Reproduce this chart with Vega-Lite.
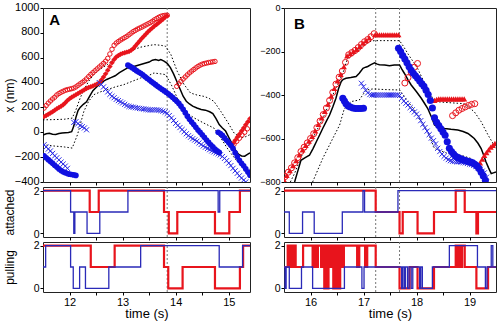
{
"$schema":"https://vega.github.io/schema/vega-lite/v6.json",
"padding":{"left":2,"top":0,"right":2,"bottom":2},
"background":"white",
"spacing":4,
"config":{
 "view":{"stroke":"#222","strokeWidth":1},
 "axis":{"domain":false,"grid":false,"labelOverlap":false,"tickColor":"#000","tickSize":3,"labelPadding":1,"titlePadding":1,"labelFont":"Liberation Sans","titleFont":"Liberation Sans","labelColor":"#000","titleColor":"#000","titleFontWeight":"normal","labelFontSize":11,"titleFontSize":12}
},
"datasets":{
 "vl":[{"p":"A","t":13.84,"v":-400,"v2":1000},{"p":"B","t":17.23,"v":-800,"v2":0},{"p":"B","t":17.68,"v":-800,"v2":0}],
 "lab":[{"p":"A","t":11.72,"v":905,"k":"A"},{"p":"B","t":15.79,"v":-75,"k":"B"}],
 "aPts":[
  {"s":"ro","t":11.52,"v":195},{"s":"ro","t":11.56,"v":215},{"s":"ro","t":11.6,"v":235},{"s":"ro","t":11.64,"v":252},{"s":"ro","t":11.68,"v":268},{"s":"ro","t":11.72,"v":282},{"s":"ro","t":11.76,"v":300},{"s":"ro","t":11.8,"v":312},{"s":"ro","t":11.84,"v":322},{"s":"ro","t":11.88,"v":330},{"s":"ro","t":11.92,"v":338},{"s":"ro","t":11.96,"v":343},{"s":"ro","t":12.0,"v":347},{"s":"ro","t":12.04,"v":351},{"s":"ro","t":12.08,"v":356},{"s":"ro","t":12.12,"v":365},{"s":"ro","t":12.16,"v":378},{"s":"ro","t":12.2,"v":390},{"s":"ro","t":12.24,"v":402},{"s":"ro","t":12.28,"v":414},{"s":"ro","t":12.32,"v":430},{"s":"ro","t":12.36,"v":448},{"s":"ro","t":12.4,"v":465},{"s":"ro","t":12.44,"v":480},{"s":"ro","t":12.48,"v":495},{"s":"ro","t":12.52,"v":510},{"s":"ro","t":12.56,"v":525},{"s":"ro","t":12.6,"v":540},{"s":"ro","t":12.64,"v":555},{"s":"ro","t":12.68,"v":572},{"s":"ro","t":12.72,"v":595},{"s":"ro","t":12.76,"v":630},{"s":"ro","t":12.8,"v":668},{"s":"ro","t":12.84,"v":700},{"s":"ro","t":12.88,"v":718},{"s":"ro","t":12.92,"v":730},{"s":"ro","t":12.96,"v":742},{"s":"ro","t":13.0,"v":752},{"s":"ro","t":13.04,"v":762},{"s":"ro","t":13.08,"v":772},{"s":"ro","t":13.12,"v":785},{"s":"ro","t":13.16,"v":798},{"s":"ro","t":13.2,"v":810},{"s":"ro","t":13.24,"v":820},{"s":"ro","t":13.28,"v":830},{"s":"ro","t":13.32,"v":838},{"s":"ro","t":13.36,"v":846},{"s":"ro","t":13.4,"v":855},{"s":"ro","t":13.44,"v":864},{"s":"ro","t":13.48,"v":873},{"s":"ro","t":13.52,"v":882},{"s":"ro","t":13.56,"v":893},{"s":"ro","t":13.6,"v":905},{"s":"ro","t":13.64,"v":915},{"s":"ro","t":13.68,"v":925},{"s":"ro","t":13.72,"v":933},{"s":"ro","t":13.76,"v":938},{"s":"ro","t":13.8,"v":941},{"s":"ro","t":13.84,"v":942},
  {"s":"ro","t":14.02,"v":370},{"s":"ro","t":14.06,"v":390},{"s":"ro","t":14.1,"v":410},{"s":"ro","t":14.14,"v":428},{"s":"ro","t":14.18,"v":445},{"s":"ro","t":14.22,"v":462},{"s":"ro","t":14.26,"v":478},{"s":"ro","t":14.3,"v":492},{"s":"ro","t":14.34,"v":505},{"s":"ro","t":14.38,"v":518},{"s":"ro","t":14.42,"v":530},{"s":"ro","t":14.46,"v":540},{"s":"ro","t":14.5,"v":548},{"s":"ro","t":14.54,"v":553},{"s":"ro","t":14.58,"v":557},{"s":"ro","t":14.62,"v":561},{"s":"ro","t":14.66,"v":564},{"s":"ro","t":14.7,"v":567},{"s":"ro","t":14.74,"v":570},
  {"s":"ro","t":15.1,"v":-95},{"s":"ro","t":15.15,"v":-72},{"s":"ro","t":15.2,"v":-48},{"s":"ro","t":15.25,"v":-22},{"s":"ro","t":15.3,"v":0},{"s":"ro","t":15.35,"v":28},
  {"s":"rf","t":11.52,"v":126},{"s":"rf","t":11.56,"v":135},{"s":"rf","t":11.6,"v":145},{"s":"rf","t":11.64,"v":155},{"s":"rf","t":11.68,"v":165},{"s":"rf","t":11.72,"v":178},{"s":"rf","t":11.76,"v":190},{"s":"rf","t":11.8,"v":200},{"s":"rf","t":11.84,"v":210},{"s":"rf","t":11.88,"v":222},{"s":"rf","t":11.92,"v":238},{"s":"rf","t":11.96,"v":255},{"s":"rf","t":12.0,"v":270},{"s":"rf","t":12.04,"v":282},{"s":"rf","t":12.08,"v":292},{"s":"rf","t":12.12,"v":302},{"s":"rf","t":12.16,"v":312},{"s":"rf","t":12.2,"v":322},{"s":"rf","t":12.24,"v":332},{"s":"rf","t":12.28,"v":342},{"s":"rf","t":12.32,"v":352},{"s":"rf","t":12.36,"v":360},{"s":"rf","t":12.4,"v":366},{"s":"rf","t":12.44,"v":372},{"s":"rf","t":12.48,"v":380},{"s":"rf","t":12.52,"v":388},{"s":"rf","t":12.56,"v":398},{"s":"rf","t":12.6,"v":420},{"s":"rf","t":12.64,"v":445},{"s":"rf","t":12.68,"v":470},{"s":"rf","t":12.72,"v":500},{"s":"rf","t":12.76,"v":530},{"s":"rf","t":12.8,"v":560},{"s":"rf","t":12.84,"v":585},{"s":"rf","t":12.88,"v":605},{"s":"rf","t":12.92,"v":618},{"s":"rf","t":12.96,"v":628},{"s":"rf","t":13.0,"v":635},{"s":"rf","t":13.04,"v":640},{"s":"rf","t":13.08,"v":645},{"s":"rf","t":13.12,"v":650},{"s":"rf","t":13.16,"v":660},{"s":"rf","t":13.2,"v":675},{"s":"rf","t":13.24,"v":695},{"s":"rf","t":13.28,"v":715},{"s":"rf","t":13.32,"v":735},{"s":"rf","t":13.36,"v":755},{"s":"rf","t":13.4,"v":772},{"s":"rf","t":13.44,"v":790},{"s":"rf","t":13.48,"v":808},{"s":"rf","t":13.52,"v":825},{"s":"rf","t":13.56,"v":840},{"s":"rf","t":13.6,"v":855},{"s":"rf","t":13.64,"v":868},{"s":"rf","t":13.68,"v":882},{"s":"rf","t":13.72,"v":895},{"s":"rf","t":13.76,"v":910},{"s":"rf","t":13.8,"v":925},{"s":"rf","t":13.84,"v":935},
  {"s":"rf","t":15.04,"v":-110},{"s":"rf","t":15.08,"v":-90},{"s":"rf","t":15.12,"v":-65},{"s":"rf","t":15.16,"v":-40},{"s":"rf","t":15.2,"v":-15},{"s":"rf","t":15.24,"v":10},{"s":"rf","t":15.28,"v":35},{"s":"rf","t":15.32,"v":60},{"s":"rf","t":15.36,"v":85},{"s":"rf","t":15.4,"v":110},
  {"s":"bf","t":11.52,"v":-190},{"s":"bf","t":11.56,"v":-205},{"s":"bf","t":11.6,"v":-220},{"s":"bf","t":11.64,"v":-235},{"s":"bf","t":11.68,"v":-250},{"s":"bf","t":11.72,"v":-265},{"s":"bf","t":11.76,"v":-280},{"s":"bf","t":11.8,"v":-295},{"s":"bf","t":11.84,"v":-308},{"s":"bf","t":11.88,"v":-318},{"s":"bf","t":11.92,"v":-325},{"s":"bf","t":11.96,"v":-332},{"s":"bf","t":12.0,"v":-337},{"s":"bf","t":12.04,"v":-340},{"s":"bf","t":12.08,"v":-343},{"s":"bf","t":12.12,"v":-347},
  {"s":"bf","t":13.1,"v":540},{"s":"bf","t":13.14,"v":530},{"s":"bf","t":13.18,"v":520},{"s":"bf","t":13.22,"v":508},{"s":"bf","t":13.26,"v":496},{"s":"bf","t":13.3,"v":485},{"s":"bf","t":13.34,"v":475},{"s":"bf","t":13.38,"v":462},{"s":"bf","t":13.42,"v":448},{"s":"bf","t":13.46,"v":435},{"s":"bf","t":13.5,"v":422},{"s":"bf","t":13.54,"v":408},{"s":"bf","t":13.58,"v":396},{"s":"bf","t":13.62,"v":383},{"s":"bf","t":13.66,"v":370},{"s":"bf","t":13.7,"v":358},{"s":"bf","t":13.74,"v":346},{"s":"bf","t":13.78,"v":335},{"s":"bf","t":13.82,"v":322},{"s":"bf","t":13.86,"v":310},{"s":"bf","t":13.9,"v":296},{"s":"bf","t":13.94,"v":282},{"s":"bf","t":13.98,"v":266},{"s":"bf","t":14.02,"v":250},{"s":"bf","t":14.06,"v":232},{"s":"bf","t":14.1,"v":210},{"s":"bf","t":14.14,"v":185},{"s":"bf","t":14.18,"v":158},{"s":"bf","t":14.22,"v":130},{"s":"bf","t":14.26,"v":105},{"s":"bf","t":14.3,"v":82},{"s":"bf","t":14.34,"v":62},{"s":"bf","t":14.38,"v":40},{"s":"bf","t":14.42,"v":18},{"s":"bf","t":14.46,"v":0},{"s":"bf","t":14.5,"v":-20},{"s":"bf","t":14.54,"v":-40},{"s":"bf","t":14.58,"v":-62},{"s":"bf","t":14.62,"v":-80},{"s":"bf","t":14.66,"v":-100},{"s":"bf","t":14.7,"v":-118},{"s":"bf","t":14.74,"v":-135},{"s":"bf","t":14.78,"v":-150},{"s":"bf","t":14.82,"v":-162},
  {"s":"bf","t":14.8,"v":0},{"s":"bf","t":14.84,"v":-10},{"s":"bf","t":14.88,"v":-25},{"s":"bf","t":14.92,"v":-45},{"s":"bf","t":14.96,"v":-65},{"s":"bf","t":15.0,"v":-85},{"s":"bf","t":15.04,"v":-105},{"s":"bf","t":15.08,"v":-130},{"s":"bf","t":15.12,"v":-165},{"s":"bf","t":15.16,"v":-195},{"s":"bf","t":15.2,"v":-225},{"s":"bf","t":15.24,"v":-250},{"s":"bf","t":15.28,"v":-270},{"s":"bf","t":15.32,"v":-295},{"s":"bf","t":15.36,"v":-320},{"s":"bf","t":15.4,"v":-345},
  {"s":"bx","t":11.52,"v":-100},{"s":"bx","t":11.56,"v":-118},{"s":"bx","t":11.6,"v":-135},{"s":"bx","t":11.64,"v":-150},{"s":"bx","t":11.68,"v":-170},{"s":"bx","t":11.72,"v":-190},{"s":"bx","t":11.76,"v":-205},{"s":"bx","t":11.8,"v":-222},{"s":"bx","t":11.84,"v":-240},{"s":"bx","t":11.88,"v":-255},{"s":"bx","t":11.92,"v":-272},{"s":"bx","t":11.96,"v":-290},
  {"s":"bx","t":12.08,"v":80},{"s":"bx","t":12.12,"v":85},{"s":"bx","t":12.16,"v":70},{"s":"bx","t":12.2,"v":55},{"s":"bx","t":12.24,"v":45},{"s":"bx","t":12.28,"v":35},{"s":"bx","t":12.32,"v":20},
  {"s":"bx","t":12.56,"v":400},{"s":"bx","t":12.6,"v":385},{"s":"bx","t":12.64,"v":365},{"s":"bx","t":12.68,"v":345},{"s":"bx","t":12.72,"v":325},{"s":"bx","t":12.76,"v":305},{"s":"bx","t":12.8,"v":290},{"s":"bx","t":12.84,"v":278},{"s":"bx","t":12.88,"v":265},{"s":"bx","t":12.92,"v":255},{"s":"bx","t":12.96,"v":245},{"s":"bx","t":13.0,"v":236},{"s":"bx","t":13.04,"v":225},{"s":"bx","t":13.08,"v":215},{"s":"bx","t":13.12,"v":208},{"s":"bx","t":13.16,"v":205},{"s":"bx","t":13.2,"v":202},{"s":"bx","t":13.24,"v":198},{"s":"bx","t":13.28,"v":195},{"s":"bx","t":13.32,"v":192},{"s":"bx","t":13.36,"v":190},{"s":"bx","t":13.4,"v":187},{"s":"bx","t":13.44,"v":184},{"s":"bx","t":13.48,"v":182},{"s":"bx","t":13.52,"v":180},{"s":"bx","t":13.56,"v":180},{"s":"bx","t":13.6,"v":181},{"s":"bx","t":13.64,"v":180},{"s":"bx","t":13.68,"v":178},{"s":"bx","t":13.72,"v":175},{"s":"bx","t":13.76,"v":170},{"s":"bx","t":13.8,"v":162},{"s":"bx","t":13.84,"v":152},{"s":"bx","t":13.88,"v":135},{"s":"bx","t":13.92,"v":115},{"s":"bx","t":13.96,"v":95},{"s":"bx","t":14.0,"v":72},{"s":"bx","t":14.04,"v":55},{"s":"bx","t":14.08,"v":38},{"s":"bx","t":14.12,"v":22},{"s":"bx","t":14.16,"v":5},{"s":"bx","t":14.2,"v":-12},{"s":"bx","t":14.24,"v":-28},{"s":"bx","t":14.28,"v":-40},{"s":"bx","t":14.32,"v":-52},{"s":"bx","t":14.36,"v":-62},{"s":"bx","t":14.4,"v":-72},{"s":"bx","t":14.44,"v":-85},{"s":"bx","t":14.48,"v":-98},{"s":"bx","t":14.52,"v":-110},{"s":"bx","t":14.56,"v":-120},{"s":"bx","t":14.6,"v":-130},{"s":"bx","t":14.64,"v":-140},{"s":"bx","t":14.68,"v":-150},{"s":"bx","t":14.72,"v":-158},{"s":"bx","t":14.76,"v":-165},{"s":"bx","t":14.8,"v":-172},{"s":"bx","t":14.84,"v":-182},{"s":"bx","t":14.88,"v":-195},{"s":"bx","t":14.92,"v":-210},{"s":"bx","t":14.96,"v":-228},{"s":"bx","t":15.0,"v":-248},{"s":"bx","t":15.04,"v":-268},{"s":"bx","t":15.08,"v":-290},{"s":"bx","t":15.12,"v":-310},{"s":"bx","t":15.16,"v":-330},{"s":"bx","t":15.2,"v":-350},{"s":"bx","t":15.24,"v":-368},{"s":"bx","t":15.28,"v":-385},{"s":"bx","t":15.32,"v":-400}
 ],
 "aLn":[
  {"s":"m","t":11.5,"v":-22},{"s":"m","t":11.56,"v":-12},{"s":"m","t":11.62,"v":-8},{"s":"m","t":11.68,"v":-15},{"s":"m","t":11.74,"v":-18},{"s":"m","t":11.8,"v":-10},{"s":"m","t":11.86,"v":-5},{"s":"m","t":11.92,"v":-3},{"s":"m","t":11.98,"v":-2},{"s":"m","t":12.04,"v":5},{"s":"m","t":12.08,"v":50},{"s":"m","t":12.12,"v":120},{"s":"m","t":12.16,"v":175},{"s":"m","t":12.2,"v":200},{"s":"m","t":12.26,"v":225},{"s":"m","t":12.32,"v":245},{"s":"m","t":12.38,"v":290},{"s":"m","t":12.44,"v":335},{"s":"m","t":12.5,"v":360},{"s":"m","t":12.56,"v":385},{"s":"m","t":12.62,"v":405},{"s":"m","t":12.7,"v":425},{"s":"m","t":12.78,"v":440},{"s":"m","t":12.86,"v":455},{"s":"m","t":12.94,"v":480},{"s":"m","t":13.02,"v":500},{"s":"m","t":13.1,"v":520},{"s":"m","t":13.18,"v":525},{"s":"m","t":13.26,"v":535},{"s":"m","t":13.34,"v":545},{"s":"m","t":13.42,"v":555},{"s":"m","t":13.5,"v":565},{"s":"m","t":13.56,"v":580},{"s":"m","t":13.62,"v":585},{"s":"m","t":13.68,"v":578},{"s":"m","t":13.72,"v":585},{"s":"m","t":13.78,"v":572},{"s":"m","t":13.84,"v":555},{"s":"m","t":13.9,"v":520},{"s":"m","t":13.96,"v":470},{"s":"m","t":14.02,"v":410},{"s":"m","t":14.08,"v":350},{"s":"m","t":14.14,"v":290},{"s":"m","t":14.2,"v":250},{"s":"m","t":14.26,"v":228},{"s":"m","t":14.32,"v":210},{"s":"m","t":14.4,"v":195},{"s":"m","t":14.48,"v":183},{"s":"m","t":14.56,"v":178},{"s":"m","t":14.64,"v":165},{"s":"m","t":14.7,"v":150},{"s":"m","t":14.76,"v":110},{"s":"m","t":14.82,"v":62},{"s":"m","t":14.88,"v":35},{"s":"m","t":14.94,"v":10},{"s":"m","t":15.0,"v":-40},{"s":"m","t":15.06,"v":-90},{"s":"m","t":15.12,"v":-140},{"s":"m","t":15.18,"v":-175},{"s":"m","t":15.24,"v":-190},{"s":"m","t":15.3,"v":-192},{"s":"m","t":15.36,"v":-175},{"s":"m","t":15.4,"v":-165},
  {"s":"u","t":11.5,"v":100},{"s":"u","t":11.7,"v":102},{"s":"u","t":11.9,"v":105},{"s":"u","t":12.05,"v":114},{"s":"u","t":12.12,"v":180},{"s":"u","t":12.2,"v":275},{"s":"u","t":12.28,"v":350},{"s":"u","t":12.36,"v":410},{"s":"u","t":12.44,"v":455},{"s":"u","t":12.52,"v":490},{"s":"u","t":12.62,"v":520},{"s":"u","t":12.71,"v":544},{"s":"u","t":12.84,"v":590},{"s":"u","t":12.96,"v":625},{"s":"u","t":13.08,"v":648},{"s":"u","t":13.21,"v":665},{"s":"u","t":13.34,"v":685},{"s":"u","t":13.46,"v":695},{"s":"u","t":13.59,"v":705},{"s":"u","t":13.72,"v":700},{"s":"u","t":13.81,"v":692},{"s":"u","t":13.91,"v":625},{"s":"u","t":14.03,"v":490},{"s":"u","t":14.16,"v":383},{"s":"u","t":14.28,"v":316},{"s":"u","t":14.4,"v":300},{"s":"u","t":14.53,"v":289},{"s":"u","t":14.62,"v":275},{"s":"u","t":14.72,"v":249},{"s":"u","t":14.85,"v":168},{"s":"u","t":14.97,"v":88},{"s":"u","t":15.1,"v":-6},{"s":"u","t":15.23,"v":-46},{"s":"u","t":15.32,"v":-35},{"s":"u","t":15.4,"v":-19},
  {"s":"l","t":11.5,"v":-100},{"s":"l","t":11.7,"v":-110},{"s":"l","t":11.9,"v":-118},{"s":"l","t":12.05,"v":-127},{"s":"l","t":12.15,"v":-19},{"s":"l","t":12.27,"v":168},{"s":"l","t":12.36,"v":250},{"s":"l","t":12.46,"v":303},{"s":"l","t":12.58,"v":325},{"s":"l","t":12.71,"v":343},{"s":"l","t":12.86,"v":365},{"s":"l","t":13.02,"v":383},{"s":"l","t":13.18,"v":410},{"s":"l","t":13.34,"v":437},{"s":"l","t":13.46,"v":450},{"s":"l","t":13.59,"v":477},{"s":"l","t":13.72,"v":470},{"s":"l","t":13.81,"v":464},{"s":"l","t":13.92,"v":380},{"s":"l","t":14.03,"v":276},{"s":"l","t":14.16,"v":168},{"s":"l","t":14.35,"v":115},{"s":"l","t":14.53,"v":74},{"s":"l","t":14.72,"v":34},{"s":"l","t":14.85,"v":-46},{"s":"l","t":14.97,"v":-127},{"s":"l","t":15.06,"v":-180},{"s":"l","t":15.16,"v":-234},{"s":"l","t":15.28,"v":-265},{"s":"l","t":15.4,"v":-300}
 ],
 "bPts":[
  {"s":"ro","t":15.52,"v":-775},{"s":"ro","t":15.58,"v":-755},{"s":"ro","t":15.64,"v":-735},{"s":"ro","t":15.7,"v":-712},{"s":"ro","t":15.76,"v":-688},{"s":"ro","t":15.82,"v":-660},{"s":"ro","t":15.88,"v":-640},{"s":"ro","t":15.94,"v":-620},{"s":"ro","t":16.0,"v":-600},{"s":"ro","t":16.06,"v":-578},{"s":"ro","t":16.12,"v":-550},{"s":"ro","t":16.18,"v":-520},{"s":"ro","t":16.24,"v":-490},{"s":"ro","t":16.3,"v":-460},{"s":"ro","t":16.36,"v":-425},{"s":"ro","t":16.42,"v":-388},{"s":"ro","t":16.48,"v":-350},{"s":"ro","t":16.54,"v":-318},{"s":"ro","t":16.6,"v":-290},{"s":"ro","t":16.66,"v":-250},{"s":"ro","t":16.72,"v":-215},{"s":"ro","t":16.78,"v":-205},{"s":"ro","t":16.84,"v":-195},{"s":"ro","t":16.9,"v":-182},{"s":"ro","t":16.96,"v":-168},{"s":"ro","t":17.02,"v":-155},{"s":"ro","t":17.08,"v":-145},{"s":"ro","t":17.14,"v":-132},{"s":"ro","t":17.2,"v":-118},
  {"s":"ro","t":17.78,"v":-345},{"s":"ro","t":17.84,"v":-320},{"s":"ro","t":17.9,"v":-295},{"s":"ro","t":17.96,"v":-272},{"s":"ro","t":18.02,"v":-255},
  {"s":"ro","t":18.68,"v":-495},{"s":"ro","t":18.74,"v":-482},{"s":"ro","t":18.8,"v":-470},{"s":"ro","t":18.86,"v":-462},{"s":"ro","t":18.92,"v":-455},{"s":"ro","t":18.98,"v":-448},{"s":"ro","t":19.04,"v":-443},{"s":"ro","t":19.1,"v":-440},
  {"s":"rt","t":15.5,"v":-790},{"s":"rt","t":15.55,"v":-770},{"s":"rt","t":15.61,"v":-748},{"s":"rt","t":15.67,"v":-725},{"s":"rt","t":15.73,"v":-702},{"s":"rt","t":15.79,"v":-675},{"s":"rt","t":15.85,"v":-652},{"s":"rt","t":15.91,"v":-632},{"s":"rt","t":15.97,"v":-612},{"s":"rt","t":16.03,"v":-590},{"s":"rt","t":16.09,"v":-565},{"s":"rt","t":16.15,"v":-535},{"s":"rt","t":16.21,"v":-505},{"s":"rt","t":16.27,"v":-475},{"s":"rt","t":16.33,"v":-442},{"s":"rt","t":16.39,"v":-405},{"s":"rt","t":16.45,"v":-370},{"s":"rt","t":16.51,"v":-335},{"s":"rt","t":16.57,"v":-305},{"s":"rt","t":16.63,"v":-270},{"s":"rt","t":16.69,"v":-220},{"s":"rt","t":16.75,"v":-210},{"s":"rt","t":16.81,"v":-200},{"s":"rt","t":16.87,"v":-190},{"s":"rt","t":16.93,"v":-176},{"s":"rt","t":16.99,"v":-162},{"s":"rt","t":17.05,"v":-150},{"s":"rt","t":17.11,"v":-138},{"s":"rt","t":17.22,"v":-123},{"s":"rt","t":17.26,"v":-123},{"s":"rt","t":17.3,"v":-123},{"s":"rt","t":17.34,"v":-123},{"s":"rt","t":17.38,"v":-123},{"s":"rt","t":17.42,"v":-123},{"s":"rt","t":17.46,"v":-123},{"s":"rt","t":17.5,"v":-123},{"s":"rt","t":17.54,"v":-123},{"s":"rt","t":17.58,"v":-123},{"s":"rt","t":17.62,"v":-123},{"s":"rt","t":17.66,"v":-123},
  {"s":"rt","t":18.34,"v":-425},{"s":"rt","t":18.38,"v":-420},{"s":"rt","t":18.42,"v":-418},{"s":"rt","t":18.46,"v":-418},{"s":"rt","t":18.5,"v":-418},{"s":"rt","t":18.54,"v":-418},{"s":"rt","t":18.58,"v":-418},{"s":"rt","t":18.62,"v":-418},{"s":"rt","t":18.66,"v":-418},{"s":"rt","t":18.7,"v":-418},{"s":"rt","t":18.74,"v":-418},{"s":"rt","t":18.78,"v":-418},{"s":"rt","t":18.82,"v":-418},{"s":"rt","t":18.86,"v":-418},{"s":"rt","t":18.9,"v":-418},
  {"s":"rt","t":19.16,"v":-730},{"s":"rt","t":19.2,"v":-712},{"s":"rt","t":19.24,"v":-695},{"s":"rt","t":19.28,"v":-678},{"s":"rt","t":19.32,"v":-665},{"s":"rt","t":19.36,"v":-652},{"s":"rt","t":19.4,"v":-640},{"s":"rt","t":19.44,"v":-632},{"s":"rt","t":19.48,"v":-622},
  {"s":"bf","t":16.61,"v":-415},{"s":"bf","t":16.64,"v":-428},{"s":"bf","t":16.67,"v":-440},{"s":"bf","t":16.71,"v":-450},{"s":"bf","t":16.75,"v":-455},{"s":"bf","t":16.8,"v":-460},{"s":"bf","t":16.85,"v":-462},{"s":"bf","t":16.9,"v":-462},{"s":"bf","t":16.95,"v":-462},{"s":"bf","t":17.0,"v":-461},
  {"s":"bf","t":17.66,"v":-185},{"s":"bf","t":17.7,"v":-200},{"s":"bf","t":17.74,"v":-218},{"s":"bf","t":17.78,"v":-235},{"s":"bf","t":17.82,"v":-252},{"s":"bf","t":17.86,"v":-270},{"s":"bf","t":17.9,"v":-286},{"s":"bf","t":17.94,"v":-300},{"s":"bf","t":17.98,"v":-312},{"s":"bf","t":18.02,"v":-323},{"s":"bf","t":18.06,"v":-336},{"s":"bf","t":18.1,"v":-348},{"s":"bf","t":18.14,"v":-360},{"s":"bf","t":18.18,"v":-378},{"s":"bf","t":18.22,"v":-398},{"s":"bf","t":18.26,"v":-425},{"s":"bf","t":18.3,"v":-460},{"s":"bf","t":18.34,"v":-505},{"s":"bf","t":18.38,"v":-525},{"s":"bf","t":18.42,"v":-540},{"s":"bf","t":18.46,"v":-555},{"s":"bf","t":18.5,"v":-570},{"s":"bf","t":18.54,"v":-585},{"s":"bf","t":18.58,"v":-615},{"s":"bf","t":18.62,"v":-645},{"s":"bf","t":18.66,"v":-660},{"s":"bf","t":18.7,"v":-672},{"s":"bf","t":18.74,"v":-682},{"s":"bf","t":18.78,"v":-688},{"s":"bf","t":18.82,"v":-692},{"s":"bf","t":18.86,"v":-696},{"s":"bf","t":18.9,"v":-700},{"s":"bf","t":18.94,"v":-703},{"s":"bf","t":18.98,"v":-706},{"s":"bf","t":19.02,"v":-708},{"s":"bf","t":19.06,"v":-712},{"s":"bf","t":19.1,"v":-718},{"s":"bf","t":19.14,"v":-726},{"s":"bf","t":19.18,"v":-738},{"s":"bf","t":19.22,"v":-755},{"s":"bf","t":19.26,"v":-772},{"s":"bf","t":19.3,"v":-792},
  {"s":"bx","t":16.96,"v":-346},{"s":"bx","t":17.0,"v":-362},{"s":"bx","t":17.04,"v":-378},{"s":"bx","t":17.08,"v":-390},{"s":"bx","t":17.12,"v":-398},{"s":"bx","t":17.16,"v":-400},{"s":"bx","t":17.2,"v":-400},{"s":"bx","t":17.24,"v":-400},{"s":"bx","t":17.28,"v":-400},{"s":"bx","t":17.32,"v":-400},{"s":"bx","t":17.36,"v":-400},{"s":"bx","t":17.4,"v":-400},{"s":"bx","t":17.44,"v":-400},{"s":"bx","t":17.48,"v":-400},{"s":"bx","t":17.52,"v":-400},{"s":"bx","t":17.56,"v":-400},{"s":"bx","t":17.6,"v":-400},{"s":"bx","t":17.64,"v":-400},{"s":"bx","t":17.68,"v":-402},{"s":"bx","t":17.72,"v":-415},{"s":"bx","t":17.76,"v":-428},{"s":"bx","t":17.8,"v":-438},{"s":"bx","t":17.84,"v":-446},{"s":"bx","t":17.88,"v":-458},{"s":"bx","t":17.92,"v":-468},{"s":"bx","t":17.96,"v":-478},{"s":"bx","t":18.0,"v":-488},{"s":"bx","t":18.04,"v":-500},{"s":"bx","t":18.08,"v":-518},{"s":"bx","t":18.12,"v":-535},{"s":"bx","t":18.16,"v":-550},{"s":"bx","t":18.2,"v":-566},{"s":"bx","t":18.24,"v":-582},{"s":"bx","t":18.28,"v":-598},{"s":"bx","t":18.32,"v":-610},{"s":"bx","t":18.36,"v":-625},{"s":"bx","t":18.4,"v":-645},{"s":"bx","t":18.44,"v":-660},{"s":"bx","t":18.48,"v":-672},{"s":"bx","t":18.52,"v":-682},{"s":"bx","t":18.56,"v":-690},{"s":"bx","t":18.6,"v":-697},{"s":"bx","t":18.64,"v":-702},{"s":"bx","t":18.68,"v":-705},{"s":"bx","t":18.72,"v":-706},{"s":"bx","t":18.76,"v":-707},{"s":"bx","t":18.8,"v":-707},{"s":"bx","t":18.84,"v":-708},{"s":"bx","t":18.88,"v":-710},{"s":"bx","t":18.92,"v":-712},{"s":"bx","t":18.96,"v":-715},{"s":"bx","t":19.0,"v":-718},{"s":"bx","t":19.04,"v":-720},{"s":"bx","t":19.08,"v":-723},{"s":"bx","t":19.12,"v":-728},{"s":"bx","t":19.16,"v":-735},{"s":"bx","t":19.2,"v":-742},{"s":"bx","t":19.24,"v":-750},{"s":"bx","t":19.28,"v":-758},{"s":"bx","t":19.32,"v":-778}
 ],
 "bLn":[
  {"s":"m","t":15.7,"v":-800},{"s":"m","t":15.76,"v":-750},{"s":"m","t":15.82,"v":-700},{"s":"m","t":15.9,"v":-688},{"s":"m","t":15.98,"v":-677},{"s":"m","t":16.05,"v":-645},{"s":"m","t":16.11,"v":-615},{"s":"m","t":16.17,"v":-585},{"s":"m","t":16.23,"v":-554},{"s":"m","t":16.3,"v":-520},{"s":"m","t":16.36,"v":-492},{"s":"m","t":16.42,"v":-455},{"s":"m","t":16.48,"v":-415},{"s":"m","t":16.53,"v":-370},{"s":"m","t":16.58,"v":-338},{"s":"m","t":16.62,"v":-328},{"s":"m","t":16.67,"v":-323},{"s":"m","t":16.76,"v":-320},{"s":"m","t":16.86,"v":-315},{"s":"m","t":16.92,"v":-300},{"s":"m","t":16.99,"v":-277},{"s":"m","t":17.04,"v":-272},{"s":"m","t":17.08,"v":-269},{"s":"m","t":17.14,"v":-260},{"s":"m","t":17.21,"v":-252},{"s":"m","t":17.26,"v":-258},{"s":"m","t":17.3,"v":-261},{"s":"m","t":17.4,"v":-262},{"s":"m","t":17.49,"v":-265},{"s":"m","t":17.58,"v":-262},{"s":"m","t":17.68,"v":-262},{"s":"m","t":17.72,"v":-280},{"s":"m","t":17.77,"v":-300},{"s":"m","t":17.84,"v":-330},{"s":"m","t":17.9,"v":-354},{"s":"m","t":18.0,"v":-385},{"s":"m","t":18.09,"v":-415},{"s":"m","t":18.15,"v":-438},{"s":"m","t":18.21,"v":-461},{"s":"m","t":18.28,"v":-500},{"s":"m","t":18.34,"v":-538},{"s":"m","t":18.42,"v":-548},{"s":"m","t":18.53,"v":-554},{"s":"m","t":18.65,"v":-558},{"s":"m","t":18.78,"v":-561},{"s":"m","t":18.88,"v":-568},{"s":"m","t":18.97,"v":-577},{"s":"m","t":19.03,"v":-588},{"s":"m","t":19.09,"v":-600},{"s":"m","t":19.16,"v":-622},{"s":"m","t":19.22,"v":-646},{"s":"m","t":19.27,"v":-678},{"s":"m","t":19.31,"v":-707},{"s":"m","t":19.36,"v":-735},{"s":"m","t":19.41,"v":-761},{"s":"m","t":19.45,"v":-758},{"s":"m","t":19.5,"v":-754},
  {"s":"u","t":15.62,"v":-800},{"s":"u","t":15.7,"v":-760},{"s":"u","t":15.85,"v":-670},{"s":"u","t":16.04,"v":-600},{"s":"u","t":16.23,"v":-510},{"s":"u","t":16.42,"v":-400},{"s":"u","t":16.61,"v":-300},{"s":"u","t":16.7,"v":-230},{"s":"u","t":16.8,"v":-215},{"s":"u","t":16.99,"v":-175},{"s":"u","t":17.11,"v":-155},{"s":"u","t":17.2,"v":-150},{"s":"u","t":17.68,"v":-150},{"s":"u","t":17.75,"v":-175},{"s":"u","t":17.85,"v":-215},{"s":"u","t":18.02,"v":-277},{"s":"u","t":18.18,"v":-360},{"s":"u","t":18.34,"v":-430},{"s":"u","t":18.6,"v":-435},{"s":"u","t":18.9,"v":-440},{"s":"u","t":19.09,"v":-477},{"s":"u","t":19.22,"v":-523},{"s":"u","t":19.35,"v":-584},{"s":"u","t":19.5,"v":-646},
  {"s":"l","t":16.04,"v":-800},{"s":"l","t":16.23,"v":-692},{"s":"l","t":16.42,"v":-600},{"s":"l","t":16.55,"v":-538},{"s":"l","t":16.64,"v":-461},{"s":"l","t":16.77,"v":-430},{"s":"l","t":16.92,"v":-423},{"s":"l","t":17.05,"v":-377},{"s":"l","t":17.18,"v":-372},{"s":"l","t":17.4,"v":-375},{"s":"l","t":17.68,"v":-377},{"s":"l","t":17.84,"v":-430},{"s":"l","t":18.02,"v":-492},{"s":"l","t":18.21,"v":-569},{"s":"l","t":18.34,"v":-646},{"s":"l","t":18.59,"v":-669},{"s":"l","t":18.84,"v":-677},{"s":"l","t":19.03,"v":-692},{"s":"l","t":19.16,"v":-723},{"s":"l","t":19.28,"v":-785},{"s":"l","t":19.3,"v":-800}
 ],
 "aAtt":[
  {"c":"r","t":11.5,"v":2},{"c":"r","t":12.38,"v":1},{"c":"r","t":12.55,"v":2},{"c":"r","t":13.78,"v":1},{"c":"r","t":13.87,"v":0},{"c":"r","t":14.03,"v":1},{"c":"r","t":14.74,"v":0},{"c":"r","t":15.01,"v":1},{"c":"r","t":15.21,"v":2},{"c":"r","t":15.4,"v":2},
  {"c":"b","t":11.5,"v":2},{"c":"b","t":12.02,"v":1},{"c":"b","t":12.08,"v":0},{"c":"b","t":12.1,"v":1},{"c":"b","t":12.33,"v":0},{"c":"b","t":12.57,"v":1},{"c":"b","t":13.1,"v":2},{"c":"b","t":14.8,"v":1},{"c":"b","t":14.83,"v":2},{"c":"b","t":15.4,"v":2}
 ],
 "aPul":[
  {"c":"r","t":11.5,"v":2},{"c":"r","t":12.4,"v":1},{"c":"r","t":12.85,"v":2},{"c":"r","t":13.78,"v":1},{"c":"r","t":13.86,"v":0},{"c":"r","t":14.13,"v":1},{"c":"r","t":14.74,"v":0},{"c":"r","t":15.21,"v":1},{"c":"r","t":15.27,"v":2},{"c":"r","t":15.4,"v":2},
  {"c":"b","t":11.5,"v":1},{"c":"b","t":11.55,"v":2},{"c":"b","t":12.02,"v":1},{"c":"b","t":12.07,"v":0},{"c":"b","t":12.19,"v":1},{"c":"b","t":12.3,"v":0},{"c":"b","t":12.74,"v":1},{"c":"b","t":13.34,"v":2},{"c":"b","t":14.82,"v":1},{"c":"b","t":15.26,"v":2},{"c":"b","t":15.4,"v":2}
 ],
 "bAtt":[
  {"c":"r","t":15.5,"v":2},{"c":"r","t":17.23,"v":1},{"c":"r","t":17.68,"v":0},{"c":"r","t":17.74,"v":1},{"c":"r","t":18.02,"v":0},{"c":"r","t":18.33,"v":1},{"c":"r","t":18.74,"v":2},{"c":"r","t":18.91,"v":1},{"c":"r","t":19.13,"v":0},{"c":"r","t":19.16,"v":1},{"c":"r","t":19.5,"v":1},
  {"c":"b","t":15.5,"v":1},{"c":"b","t":15.6,"v":0},{"c":"b","t":15.85,"v":1},{"c":"b","t":16.07,"v":0},{"c":"b","t":16.6,"v":1},{"c":"b","t":16.99,"v":2},{"c":"b","t":17.02,"v":1},{"c":"b","t":17.65,"v":2},{"c":"b","t":19.5,"v":2}
 ],
 "bPul":[
  {"c":"r","t":15.5,"v":1},{"c":"r","t":15.57,"v":2},{"c":"r","t":15.59,"v":1},{"c":"r","t":15.61,"v":2},{"c":"r","t":15.63,"v":1},{"c":"r","t":15.65,"v":2},{"c":"r","t":15.67,"v":1},{"c":"r","t":15.69,"v":2},{"c":"r","t":15.72,"v":1},{"c":"r","t":15.86,"v":2},{"c":"r","t":16.04,"v":1},{"c":"r","t":16.07,"v":2},{"c":"r","t":16.1,"v":1},{"c":"r","t":16.14,"v":2},{"c":"r","t":16.2,"v":1},{"c":"r","t":16.23,"v":2},{"c":"r","t":16.26,"v":0},{"c":"r","t":16.28,"v":2},{"c":"r","t":16.31,"v":0},{"c":"r","t":16.34,"v":2},{"c":"r","t":16.37,"v":1},{"c":"r","t":16.4,"v":2},{"c":"r","t":16.43,"v":0},{"c":"r","t":16.45,"v":2},{"c":"r","t":16.48,"v":0},{"c":"r","t":16.5,"v":2},{"c":"r","t":16.53,"v":0},{"c":"r","t":16.56,"v":2},{"c":"r","t":16.6,"v":1},{"c":"r","t":16.63,"v":2},{"c":"r","t":16.88,"v":1},{"c":"r","t":16.92,"v":2},{"c":"r","t":17.03,"v":1},{"c":"r","t":17.07,"v":2},{"c":"r","t":17.23,"v":1},{"c":"r","t":17.68,"v":0},{"c":"r","t":17.87,"v":1},{"c":"r","t":18.02,"v":0},{"c":"r","t":18.33,"v":1},{"c":"r","t":18.74,"v":2},{"c":"r","t":18.76,"v":1},{"c":"r","t":18.78,"v":2},{"c":"r","t":18.8,"v":1},{"c":"r","t":18.82,"v":2},{"c":"r","t":18.84,"v":1},{"c":"r","t":18.86,"v":2},{"c":"r","t":18.91,"v":1},{"c":"r","t":19.13,"v":0},{"c":"r","t":19.35,"v":1},{"c":"r","t":19.5,"v":1},
  {"c":"b","t":15.5,"v":1},{"c":"b","t":15.52,"v":0},{"c":"b","t":15.54,"v":1},{"c":"b","t":15.6,"v":0},{"c":"b","t":15.83,"v":1},{"c":"b","t":16.04,"v":0},{"c":"b","t":16.64,"v":1},{"c":"b","t":16.97,"v":0},{"c":"b","t":17.01,"v":1},{"c":"b","t":17.72,"v":0},{"c":"b","t":17.74,"v":1},{"c":"b","t":17.77,"v":0},{"c":"b","t":17.79,"v":1},{"c":"b","t":17.83,"v":0},{"c":"b","t":17.86,"v":1},{"c":"b","t":17.9,"v":0},{"c":"b","t":17.93,"v":1},{"c":"b","t":18.06,"v":0},{"c":"b","t":18.08,"v":1},{"c":"b","t":18.11,"v":0},{"c":"b","t":18.3,"v":1},{"c":"b","t":18.62,"v":2},{"c":"b","t":19.15,"v":1},{"c":"b","t":19.3,"v":0},{"c":"b","t":19.33,"v":1},{"c":"b","t":19.41,"v":2},{"c":"b","t":19.44,"v":1},{"c":"b","t":19.5,"v":1}
 ]
},
"hconcat":[
 {"bounds":"flush","spacing":5,"vconcat":[
  {"width":207,"height":174,
   "encoding":{
    "x":{"field":"t","type":"quantitative","scale":{"domain":[11.5,15.4],"nice":false,"zero":false},"axis":{"values":[12,12.5,13,13.5,14,14.5,15],"labels":false,"title":null}},
    "y":{"field":"v","type":"quantitative","scale":{"domain":[-400,1000],"nice":false,"zero":false},"axis":{"values":[-400,-200,0,200,400,600,800,1000],"format":"d","labelOverlap":false,"labelOffset":-1,"title":"x (nm)","titleX":-27}}
   },
   "layer":[
    {"data":{"name":"vl"},"transform":[{"filter":"datum.p=='A'"}],"mark":{"type":"rule","stroke":"#777","strokeDash":[2,2],"strokeWidth":1},"encoding":{"y2":{"field":"v2"}}},
    {"data":{"name":"aLn"},"transform":[{"filter":"datum.s!='m'"}],"mark":{"type":"line","stroke":"#000","strokeDash":[1.5,2],"strokeWidth":1,"clip":true},"encoding":{"detail":{"field":"s"}}},
    {"data":{"name":"aLn"},"transform":[{"filter":"datum.s=='m'"}],"mark":{"type":"line","stroke":"#000","strokeWidth":1.5,"clip":true}},
    {"data":{"name":"aPts"},"transform":[{"filter":"datum.s=='ro'"}],"mark":{"type":"point","shape":"circle","filled":false,"stroke":"#e8141c","strokeWidth":1,"size":20,"opacity":1,"clip":true}},
    {"data":{"name":"aPts"},"transform":[{"filter":"datum.s=='rf'"}],"mark":{"type":"point","shape":"diamond","filled":true,"fill":"#e8141c","size":30,"opacity":1,"clip":true}},
    {"data":{"name":"aPts"},"transform":[{"filter":"datum.s=='bx'"}],"mark":{"type":"point","shape":"M-1,-1L1,1M-1,1L1,-1","filled":false,"stroke":"#2a2ae6","strokeWidth":1,"size":26,"opacity":1,"clip":true}},
    {"data":{"name":"aPts"},"transform":[{"filter":"datum.s=='bf'"}],"mark":{"type":"point","shape":"circle","filled":true,"fill":"#1010e0","size":32,"opacity":1,"clip":true}},
    {"data":{"name":"lab"},"transform":[{"filter":"datum.p=='A'"}],"mark":{"type":"text","font":"Liberation Sans","fontSize":15,"fontWeight":"bold","color":"#000"},"encoding":{"text":{"field":"k"}}}
   ]},
  {"width":207,"height":50,
   "encoding":{
    "x":{"field":"t","type":"quantitative","scale":{"domain":[11.5,15.4],"nice":false,"zero":false},"axis":{"values":[12,12.5,13,13.5,14,14.5,15],"labels":false,"title":null}}
   },
   "layer":[
    {"data":{"name":"vl"},"transform":[{"filter":"datum.p=='A'"}],"mark":{"type":"rule","stroke":"#777","strokeDash":[2,2],"strokeWidth":1}},
    {"data":{"name":"aAtt"},"transform":[{"filter":"datum.c=='r'"}],"mark":{"type":"line","interpolate":"step-after","stroke":"#e8141c","strokeWidth":2.2},"encoding":{"y":{"field":"v","type":"quantitative","scale":{"domain":[-0.17,2.17],"nice":false,"zero":false},"axis":{"values":[0,1,2],"labelOverlap":false,"labelOffset":1,"labelFontSize":10.5,"title":"attached","titleX":-27}}}},
    {"data":{"name":"aAtt"},"transform":[{"filter":"datum.c=='b'"}],"mark":{"type":"line","interpolate":"step-after","stroke":"#2a2ab8","strokeWidth":1.3},"encoding":{"y":{"field":"v","type":"quantitative","scale":{"domain":[-0.17,2.17],"nice":false,"zero":false}}}}
   ]},
  {"width":207,"height":50,
   "encoding":{"x":{"field":"t","type":"quantitative","scale":{"domain":[11.5,15.4],"nice":false,"zero":false},"axis":{"values":[12,12.5,13,13.5,14,14.5,15],"labelOverlap":false,"labelExpr":"datum.value % 1 == 0 ? format(datum.value, 'd') : ''","title":"time (s)","titleFontSize":13,"titlePadding":0}}},
   "layer":[
    {"data":{"name":"vl"},"transform":[{"filter":"datum.p=='A'"}],"mark":{"type":"rule","stroke":"#777","strokeDash":[2,2],"strokeWidth":1}},
    {"data":{"name":"aPul"},"transform":[{"filter":"datum.c=='r'"}],"mark":{"type":"line","interpolate":"step-after","stroke":"#e8141c","strokeWidth":2.2},"encoding":{"y":{"field":"v","type":"quantitative","scale":{"domain":[-0.17,2.17],"nice":false,"zero":false},"axis":{"values":[0,1,2],"labelOverlap":false,"labelFontSize":10.5,"title":"pulling","titleX":-27}}}},
    {"data":{"name":"aPul"},"transform":[{"filter":"datum.c=='b'"}],"mark":{"type":"line","interpolate":"step-after","stroke":"#2a2ab8","strokeWidth":1.3},"encoding":{"y":{"field":"v","type":"quantitative","scale":{"domain":[-0.17,2.17],"nice":false,"zero":false}}}}
   ]}
 ]},
 {"bounds":"flush","spacing":5,"vconcat":[
  {"width":212,"height":174,
   "encoding":{
    "x":{"field":"t","type":"quantitative","scale":{"domain":[15.5,19.5],"nice":false,"zero":false},"axis":{"values":[16,16.5,17,17.5,18,18.5,19],"labels":false,"title":null}},
    "y":{"field":"v","type":"quantitative","scale":{"domain":[-800,0],"nice":false,"zero":false},"axis":{"values":[-800,-600,-400,-200,0],"format":"d","labelOverlap":false,"labelOffset":-1,"title":null,"labelFontSize":9}}
   },
   "layer":[
    {"data":{"name":"vl"},"transform":[{"filter":"datum.p=='B'"}],"mark":{"type":"rule","stroke":"#777","strokeDash":[2,2],"strokeWidth":1},"encoding":{"y2":{"field":"v2"}}},
    {"data":{"name":"bLn"},"transform":[{"filter":"datum.s!='m'"}],"mark":{"type":"line","stroke":"#000","strokeDash":[1.5,2],"strokeWidth":1,"clip":true},"encoding":{"detail":{"field":"s"}}},
    {"data":{"name":"bLn"},"transform":[{"filter":"datum.s=='m'"}],"mark":{"type":"line","stroke":"#000","strokeWidth":1.5,"clip":true}},
    {"data":{"name":"bPts"},"transform":[{"filter":"datum.s=='ro'"}],"mark":{"type":"point","shape":"circle","filled":false,"stroke":"#e8141c","strokeWidth":1,"size":36,"opacity":1,"clip":true}},
    {"data":{"name":"bPts"},"transform":[{"filter":"datum.s=='rt'"}],"mark":{"type":"point","shape":"triangle-up","filled":true,"fill":"#e8141c","size":36,"opacity":1,"clip":true}},
    {"data":{"name":"bPts"},"transform":[{"filter":"datum.s=='bx'"}],"mark":{"type":"point","shape":"M-1,-1L1,1M-1,1L1,-1","filled":false,"stroke":"#2a2ae6","strokeWidth":1,"size":26,"opacity":1,"clip":true}},
    {"data":{"name":"bPts"},"transform":[{"filter":"datum.s=='bf'"}],"mark":{"type":"point","shape":"circle","filled":true,"fill":"#1010e0","size":50,"opacity":1,"clip":true}},
    {"data":{"name":"lab"},"transform":[{"filter":"datum.p=='B'"}],"mark":{"type":"text","font":"Liberation Sans","fontSize":15,"fontWeight":"bold","color":"#000"},"encoding":{"text":{"field":"k"}}}
   ]},
  {"width":212,"height":50,
   "encoding":{"x":{"field":"t","type":"quantitative","scale":{"domain":[15.5,19.5],"nice":false,"zero":false},"axis":{"values":[16,16.5,17,17.5,18,18.5,19],"labels":false,"title":null}}},
   "layer":[
    {"data":{"name":"vl"},"transform":[{"filter":"datum.p=='B'"}],"mark":{"type":"rule","stroke":"#777","strokeDash":[2,2],"strokeWidth":1}},
    {"data":{"name":"bAtt"},"transform":[{"filter":"datum.c=='r'"}],"mark":{"type":"line","interpolate":"step-after","stroke":"#e8141c","strokeWidth":2.2},"encoding":{"y":{"field":"v","type":"quantitative","scale":{"domain":[-0.17,2.17],"nice":false,"zero":false},"axis":{"values":[0,1,2],"labelOverlap":false,"labelOffset":1,"labelFontSize":10.5,"title":null}}}},
    {"data":{"name":"bAtt"},"transform":[{"filter":"datum.c=='b'"}],"mark":{"type":"line","interpolate":"step-after","stroke":"#2a2ab8","strokeWidth":1.3},"encoding":{"y":{"field":"v","type":"quantitative","scale":{"domain":[-0.17,2.17],"nice":false,"zero":false}}}}
   ]},
  {"width":212,"height":50,
   "encoding":{"x":{"field":"t","type":"quantitative","scale":{"domain":[15.5,19.5],"nice":false,"zero":false},"axis":{"values":[16,16.5,17,17.5,18,18.5,19],"labelOverlap":false,"labelExpr":"datum.value % 1 == 0 ? format(datum.value, 'd') : ''","title":"time (s)","titleFontSize":13,"titlePadding":0}}},
   "layer":[
    {"data":{"name":"vl"},"transform":[{"filter":"datum.p=='B'"}],"mark":{"type":"rule","stroke":"#777","strokeDash":[2,2],"strokeWidth":1}},
    {"data":{"name":"bPul"},"transform":[{"filter":"datum.c=='r'"}],"mark":{"type":"line","interpolate":"step-after","stroke":"#e8141c","strokeWidth":2.2},"encoding":{"y":{"field":"v","type":"quantitative","scale":{"domain":[-0.17,2.17],"nice":false,"zero":false},"axis":{"values":[0,1,2],"labelOverlap":false,"labelFontSize":10.5,"title":null}}}},
    {"data":{"name":"bPul"},"transform":[{"filter":"datum.c=='b'"}],"mark":{"type":"line","interpolate":"step-after","stroke":"#2a2ab8","strokeWidth":1.3},"encoding":{"y":{"field":"v","type":"quantitative","scale":{"domain":[-0.17,2.17],"nice":false,"zero":false}}}}
   ]}
 ]}
]
}
